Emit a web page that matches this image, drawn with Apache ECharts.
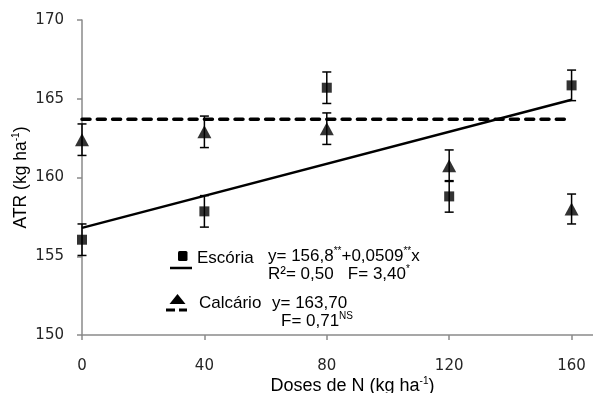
<!DOCTYPE html>
<html>
<head>
<meta charset="utf-8">
<script src="https://cdn.jsdelivr.net/npm/echarts@6/dist/echarts.min.js"></script>
<style>
  html, body { margin: 0; padding: 0; background: #fff; }
  #chart { width: 593px; height: 393px; }
</style>
</head>
<body>
<div id="chart"></div>
<script>
// doses de N (kg/ha)
const doses = [0, 40, 80, 120, 160]
const xTicks = [0, 40, 80, 120, 160]

// ATR medias e desvios
const escoria = [156.05, 157.85, 165.7, 158.8, 165.85]
const escoriaErr = [1.0, 1.0, 1.0, 1.0, 0.97]
const calcario = [162.4, 162.9, 163.1, 160.75, 158.0]
const calcarioErr = [1.0, 1.0, 1.0, 1.0, 0.95]

// linhas ajustadas (extremos)
const fitX = [0, 160]
const escoriaFit = [156.8, 164.94]
const calcarioFit = [163.7, 163.7]

const el = document.getElementById('chart')
const chart = echarts.init(el)

function richFor(size) {
  return {
    t: { fontFamily: 'Liberation Sans', fontSize: size, color: '#000', lineHeight: 20 },
    s: { fontFamily: 'Liberation Sans', fontSize: 10, color: '#000', lineHeight: 11, verticalAlign: 'top' },
  }
}
const rich = richFor(17)

function errData(vals, errs) {
  return doses.map((d, i) => [d, vals[i] - errs[i], vals[i] + errs[i]])
}

function errorBar(params, api) {
  const x = api.value(0)
  const top = api.coord([x, api.value(2)])
  const bot = api.coord([x, api.value(1)])
  const w = 4.5
  const style = { stroke: '#000', lineWidth: 1.5 }
  return {
    type: 'group',
    children: [
      { type: 'line', shape: { x1: top[0], y1: top[1], x2: bot[0], y2: bot[1] }, style },
      { type: 'line', shape: { x1: top[0] - w, y1: top[1], x2: top[0] + w, y2: top[1] }, style },
      { type: 'line', shape: { x1: bot[0] - w, y1: bot[1], x2: bot[0] + w, y2: bot[1] }, style },
    ],
  }
}

chart.setOption({
  animation: false,
  grid: { left: 82, right: 0, top: 20, bottom: 58, containLabel: false, outerBoundsMode: 'none' },
  xAxis: {
    type: 'value',
    min: 0,
    max: 167,
    name: '{t|Doses de N (kg ha}{s|-1}{t|)}',
    nameLocation: 'middle',
    nameGap: 41,
    nameMoveOverlap: false,
    nameTextStyle: { rich: richFor(18), padding: [0, 0, 0, 30] },
    axisLine: { show: true, lineStyle: { color: '#8a8a8a', width: 1.5 } },
    axisTick: { show: true, customValues: xTicks, length: 5, lineStyle: { color: '#8a8a8a', width: 1.5 } },
    axisLabel: {
      customValues: xTicks,
      margin: 24,
      color: '#262626',
      fontFamily: 'DejaVu Sans',
      fontSize: 15,
    },
    splitLine: { show: false },
  },
  yAxis: {
    type: 'value',
    min: 150,
    max: 170,
    interval: 5,
    name: '{t|ATR (kg ha}{s|-1}{t|)}',
    nameLocation: 'middle',
    nameRotate: 90,
    nameGap: 51,
    nameMoveOverlap: false,
    nameTextStyle: { rich: richFor(17.5) },
    axisLine: { show: true, lineStyle: { color: '#8a8a8a', width: 1.5 } },
    axisTick: { show: true, length: 5, lineStyle: { color: '#8a8a8a', width: 1.5 } },
    axisLabel: {
      margin: 18,
      color: '#262626',
      fontFamily: 'DejaVu Sans',
      fontSize: 15,
    },
    splitLine: { show: false },
  },
  series: [
    {
      name: 'Calcário ajuste',
      type: 'line',
      data: fitX.map((x, i) => [x, calcarioFit[i]]),
      showSymbol: false,
      lineStyle: { color: '#000', width: 3.5, type: [8, 7.3], cap: 'round' },
      z: 2,
    },
    {
      name: 'Escória ajuste',
      type: 'line',
      data: fitX.map((x, i) => [x, escoriaFit[i]]),
      showSymbol: false,
      lineStyle: { color: '#000', width: 2.5 },
      z: 2,
    },
    {
      type: 'custom',
      data: errData(escoria, escoriaErr),
      encode: { x: 0, y: [1, 2] },
      renderItem: errorBar,
      z: 3,
    },
    {
      type: 'custom',
      data: errData(calcario, calcarioErr),
      encode: { x: 0, y: [1, 2] },
      renderItem: errorBar,
      z: 3,
    },
    {
      name: 'Escória',
      type: 'scatter',
      data: doses.map((d, i) => [d, escoria[i]]),
      symbol: 'rect',
      symbolSize: [10, 10],
      itemStyle: { color: '#000' },
      z: 4,
    },
    {
      name: 'Calcário',
      type: 'scatter',
      data: doses.map((d, i) => [d, calcario[i]]),
      symbol: 'triangle',
      symbolSize: [14, 13],
      itemStyle: { color: '#000' },
      z: 4,
    },
  ],
  graphic: [
    { type: 'rect', shape: { x: 178, y: 251, width: 9.5, height: 10, r: 1.5 }, style: { fill: '#000' } },
    { type: 'line', shape: { x1: 170, y1: 268, x2: 192, y2: 268 }, style: { stroke: '#000', lineWidth: 2.5 } },
    {
      type: 'text', x: 197, y: 258,
      style: { text: '{t|Escória}', rich, verticalAlign: 'middle' },
    },
    {
      type: 'text', x: 268, y: 256,
      style: { text: '{t|y= 156,8}{s|**}{t|+0,0509}{s|**}{t|x}', rich, verticalAlign: 'middle' },
    },
    {
      type: 'text', x: 268, y: 274,
      style: { text: '{t|R²= 0,50   F= 3,40}{s|*}', rich, verticalAlign: 'middle' },
    },
    { type: 'polygon', shape: { points: [[169.5, 304], [185.5, 304], [177.5, 294]] }, style: { fill: '#000' } },
    { type: 'line', shape: { x1: 166, y1: 310, x2: 175, y2: 310 }, style: { stroke: '#000', lineWidth: 3 } },
    { type: 'line', shape: { x1: 179, y1: 310, x2: 187, y2: 310 }, style: { stroke: '#000', lineWidth: 3 } },
    {
      type: 'text', x: 199, y: 303,
      style: { text: '{t|Calcário}', rich, verticalAlign: 'middle' },
    },
    {
      type: 'text', x: 272, y: 303,
      style: { text: '{t|y= 163,70}', rich, verticalAlign: 'middle' },
    },
    {
      type: 'text', x: 281, y: 321,
      style: { text: '{t|F= 0,71}{s|NS}', rich, verticalAlign: 'middle' },
    },
  ],
})

window.addEventListener('resize', () => chart.resize())
</script>
</body>
</html>
